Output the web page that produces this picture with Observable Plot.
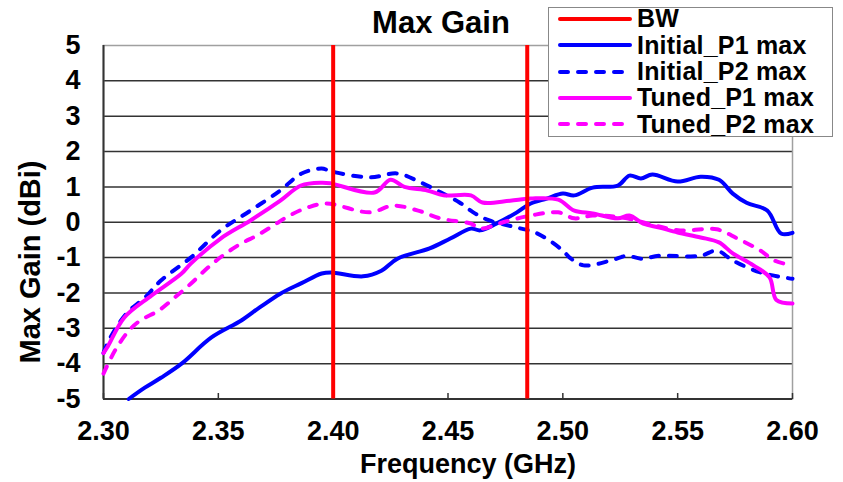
<!DOCTYPE html>
<html><head><meta charset="utf-8">
<script src="https://cdn.jsdelivr.net/npm/d3@7"></script>
<script src="https://cdn.jsdelivr.net/npm/@observablehq/plot@0.6"></script>
<style>
body{margin:0;background:#fff;}
#wrap{position:relative;width:843px;height:482px;font-family:"Liberation Sans",Arial,sans-serif;font-weight:bold;color:#000;overflow:hidden;background:#fff}
.ov{position:absolute;line-height:1;white-space:nowrap}
</style></head><body><div id="wrap"></div>
<script>
// ---- data ----
const xTicks = [2.30, 2.35, 2.40, 2.45, 2.50, 2.55, 2.60];
const yTicks = [-5, -4, -3, -2, -1, 0, 1, 2, 3, 4, 5];
const bwFreq = [2.40, 2.4845];

const initP1Freq = [2.311, 2.318, 2.325, 2.334, 2.347, 2.360, 2.368, 2.377, 2.386, 2.395, 2.399, 2.413, 2.421, 2.428, 2.442, 2.451, 2.460, 2.464, 2.471, 2.480, 2.486, 2.493, 2.500, 2.505, 2.513, 2.524, 2.529, 2.534, 2.539, 2.550, 2.560, 2.568, 2.574, 2.580, 2.589, 2.595, 2.600];
const initP1Gain = [-5.0, -4.68, -4.4, -4.0, -3.26, -2.78, -2.41, -2.02, -1.73, -1.45, -1.42, -1.53, -1.37, -1.03, -0.74, -0.46, -0.18, -0.23, -0.04, 0.28, 0.53, 0.67, 0.81, 0.76, 0.98, 1.04, 1.32, 1.24, 1.35, 1.15, 1.29, 1.20, 0.81, 0.55, 0.33, -0.32, -0.30];

const initP2Freq = [2.300, 2.303, 2.310, 2.318, 2.325, 2.338, 2.351, 2.364, 2.377, 2.386, 2.395, 2.399, 2.416, 2.428, 2.438, 2.447, 2.455, 2.461, 2.468, 2.480, 2.489, 2.500, 2.503, 2.509, 2.521, 2.528, 2.534, 2.542, 2.560, 2.567, 2.574, 2.586, 2.600];
const initP2Gain = [-3.7, -3.26, -2.58, -2.13, -1.65, -1.0, -0.23, 0.33, 0.9, 1.37, 1.52, 1.44, 1.27, 1.38, 1.13, 0.84, 0.56, 0.28, 0.05, -0.15, -0.32, -0.8, -1.0, -1.22, -1.08, -0.95, -1.03, -0.95, -0.95, -0.8, -1.08, -1.42, -1.6];

const tunedP1Freq = [2.300, 2.302, 2.309, 2.321, 2.334, 2.338, 2.351, 2.364, 2.377, 2.386, 2.395, 2.399, 2.418, 2.425, 2.431, 2.441, 2.448, 2.460, 2.465, 2.477, 2.486, 2.498, 2.505, 2.513, 2.524, 2.529, 2.535, 2.542, 2.550, 2.560, 2.568, 2.574, 2.583, 2.590, 2.593, 2.600];
const tunedP1Gain = [-3.7, -3.5, -2.7, -2.07, -1.45, -1.17, -0.46, 0.05, 0.61, 1.04, 1.12, 1.1, 0.84, 1.2, 1.0, 0.9, 0.76, 0.76, 0.56, 0.61, 0.67, 0.64, 0.33, 0.25, 0.11, 0.19, -0.04, -0.15, -0.29, -0.43, -0.57, -0.88, -1.22, -1.56, -2.2, -2.3];

const tunedP2Freq = [2.300, 2.305, 2.311, 2.316, 2.324, 2.331, 2.338, 2.345, 2.352, 2.360, 2.367, 2.374, 2.381, 2.389, 2.397, 2.416, 2.426, 2.437, 2.447, 2.460, 2.464, 2.474, 2.486, 2.498, 2.505, 2.513, 2.528, 2.537, 2.551, 2.567, 2.576, 2.586, 2.592, 2.600];
const tunedP2Gain = [-4.28, -3.63, -3.07, -2.78, -2.5, -2.13, -1.74, -1.31, -0.94, -0.6, -0.37, -0.09, 0.19, 0.42, 0.53, 0.28, 0.47, 0.33, 0.1, -0.04, -0.18, 0.0, 0.19, 0.28, 0.11, 0.19, 0.11, -0.04, -0.23, -0.2, -0.46, -0.8, -1.08, -1.22];

const seriesNames = ["BW", "Initial_P1 max", "Initial_P2 max", "Tuned_P1 max", "Tuned_P2 max"];
const seriesColors = ["#ff0000", "#0000ff", "#0000ff", "#ff00ff", "#ff00ff"];
const seriesDashed = [false, false, true, false, true];

const titleText = "Max Gain";
const xLabel = "Frequency (GHz)";
const yLabel = "Max Gain (dBi)";

// ---- build ----
const curves = [
  [initP1Freq, initP1Gain, 1],
  [initP2Freq, initP2Gain, 2],
  [tunedP1Freq, tunedP1Gain, 3],
  [tunedP2Freq, tunedP2Gain, 4]
].map(([f, g, i]) => ({rows: f.map((v, k) => ({f: v, g: g[k]})), i}));

const DASH = "8,10";
const tickSymbol = {draw(ctx) { ctx.moveTo(0, 0); ctx.lineTo(0, -6); }};
const FONT = '"Liberation Sans", Arial, sans-serif';

const chart = Plot.plot({
  width: 843,
  height: 482,
  marginLeft: 103,
  marginRight: 51,
  marginTop: 45,
  marginBottom: 83.5,
  style: {fontFamily: FONT, fontSize: "27px", fontWeight: "bold", color: "#000", background: "transparent"},
  x: {domain: [2.30, 2.60]},
  y: {domain: [-5, 5]},
  marks: [
    Plot.gridY(yTicks.slice(1, -1), {stroke: "#333", strokeOpacity: 1, strokeWidth: 1.5}),
    Plot.frame({stroke: "#a0a0a0", strokeWidth: 1.5}),
    Plot.ruleX([xTicks[0]], {stroke: "#333", strokeWidth: 2}),
    Plot.ruleY([yTicks[0]], {stroke: "#333", strokeWidth: 2}),
    Plot.dot(xTicks, {x: d => d, y: () => yTicks[0], symbol: tickSymbol, stroke: "#333", strokeWidth: 1.5, fill: "none"}),
    ...curves.map(c => Plot.line(c.rows, {
      x: "f", y: "g", curve: "catmull-rom",
      stroke: seriesColors[c.i], strokeWidth: 4,
      strokeDasharray: seriesDashed[c.i] ? DASH : null
    })),
    Plot.ruleX(bwFreq, {stroke: seriesColors[0], strokeWidth: 4, strokeLinecap: "butt"}),
    Plot.axisX({ticks: xTicks, tickFormat: d3.format(".2f"), tickSize: 0, tickPadding: 22, label: null}),
    Plot.axisY({ticks: yTicks, tickFormat: d => String(d), tickSize: 0, tickPadding: 23, label: null})
  ]
});
chart.style.position = "absolute";
chart.style.left = "0";
chart.style.top = "0";

const wrap = document.getElementById("wrap");
wrap.appendChild(chart);

function addText(txt, css) {
  const d = document.createElement("div");
  d.className = "ov";
  d.textContent = txt;
  Object.assign(d.style, css);
  wrap.appendChild(d);
  return d;
}
addText(titleText, {left: "441px", top: "7px", fontSize: "31px", transform: "translateX(-50%)"});
addText(xLabel, {left: "468px", top: "451px", fontSize: "27px", transform: "translateX(-50%)"});
addText(yLabel, {left: "30px", top: "262px", fontSize: "29px", transform: "translate(-50%,-50%) rotate(-90deg)"});

// legend
const leg = document.createElement("div");
Object.assign(leg.style, {position: "absolute", left: "548px", top: "7px", width: "285px", height: "130px",
  border: "1.5px solid #888", background: "#fff", boxSizing: "border-box"});
wrap.appendChild(leg);
seriesNames.forEach((name, i) => {
  const row = document.createElement("div");
  Object.assign(row.style, {position: "absolute", left: "9px", top: (-2.2 + i * 26.3) + "px", height: "26.3px",
    display: "flex", alignItems: "center", whiteSpace: "nowrap"});
  const ns = "http://www.w3.org/2000/svg";
  const s = document.createElementNS(ns, "svg");
  s.setAttribute("width", "74"); s.setAttribute("height", "10");
  const l = document.createElementNS(ns, "line");
  l.setAttribute("x1", "2"); l.setAttribute("x2", "72"); l.setAttribute("y1", "5"); l.setAttribute("y2", "5");
  l.setAttribute("stroke", seriesColors[i]); l.setAttribute("stroke-width", "4"); l.setAttribute("stroke-linecap", "round");
  if (seriesDashed[i]) l.setAttribute("stroke-dasharray", DASH);
  s.appendChild(l);
  const t = document.createElement("span");
  t.textContent = name;
  Object.assign(t.style, {fontSize: "25px", lineHeight: "1", marginLeft: "5px", display: "inline-block", letterSpacing: "0.2px"});
  row.appendChild(s); row.appendChild(t);
  leg.appendChild(row);
});
</script></body></html>
